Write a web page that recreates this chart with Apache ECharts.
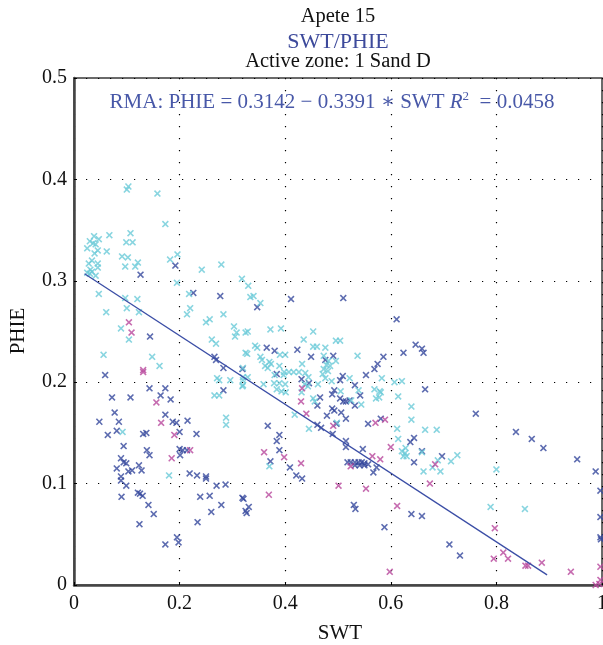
<!DOCTYPE html>
<html>
<head>
<meta charset="utf-8">
<script src="https://cdn.jsdelivr.net/npm/echarts@6/dist/echarts.min.js"></script>
<style>html,body{margin:0;padding:0;background:#fff}#c{width:603px;height:645px}</style>
</head>
<body>
<div id="c"></div>
<script>
// ---- data (SWT, PHIE) ----
const xTicks = [0, 0.2, 0.4, 0.6, 0.8, 1];
const yTicks = [0, 0.1, 0.2, 0.3, 0.4, 0.5];

const cyanPts = [
[0.100,0.390],[0.103,0.393],[0.158,0.386],[0.173,0.356],[0.067,0.345],[0.107,0.347],[0.099,0.338],[0.111,0.338],
[0.038,0.344],[0.030,0.339],[0.047,0.341],[0.041,0.336],[0.036,0.337],[0.025,0.332],[0.045,0.330],[0.039,0.327],[0.062,0.329],[0.034,0.320],[0.028,0.317],[0.045,0.317],[0.045,0.313],[0.031,0.311],[0.025,0.308],[0.034,0.309],[0.041,0.305],[0.030,0.307],
[0.091,0.324],[0.102,0.323],[0.097,0.314],[0.116,0.314],[0.121,0.318],[0.182,0.321],[0.196,0.326],[0.242,0.311],[0.279,0.316],[0.318,0.302],[0.330,0.295],[0.195,0.298],[0.047,0.287],[0.218,0.287],[0.097,0.283],[0.120,0.282],[0.220,0.273],[0.214,0.267],[0.061,0.269],[0.100,0.273],[0.123,0.269],[0.250,0.259],[0.257,0.262],[0.283,0.267],[0.303,0.255],[0.308,0.249],[0.305,0.245],[0.325,0.249],[0.089,0.253],[0.104,0.242],[0.261,0.242],[0.269,0.238],[0.334,0.284],
[0.056,0.227],[0.148,0.225],[0.162,0.216],[0.325,0.229],[0.320,0.214],[0.271,0.204],[0.275,0.202],[0.296,0.202],[0.320,0.202],[0.319,0.196],[0.266,0.187],[0.275,0.187],[0.288,0.165],[0.288,0.158],[0.092,0.151],[0.180,0.108],
[0.340,0.285],[0.353,0.278],[0.329,0.250],[0.372,0.252],[0.392,0.253],[0.453,0.250],[0.435,0.242],[0.496,0.241],[0.504,0.241],[0.343,0.236],[0.347,0.234],[0.453,0.235],[0.460,0.235],[0.476,0.234],[0.328,0.228],[0.390,0.227],[0.400,0.227],[0.353,0.225],[0.356,0.222],[0.473,0.226],[0.537,0.226],[0.370,0.220],[0.373,0.218],[0.362,0.216],[0.367,0.214],[0.389,0.216],[0.432,0.218],[0.482,0.221],[0.496,0.221],[0.478,0.217],[0.485,0.216],[0.473,0.213],[0.481,0.211],[0.398,0.210],[0.407,0.210],[0.416,0.210],[0.426,0.210],[0.438,0.209],[0.471,0.208],[0.320,0.205],[0.329,0.205],[0.380,0.207],[0.397,0.207],[0.444,0.205],[0.476,0.204],[0.379,0.199],[0.389,0.199],[0.400,0.198],[0.437,0.198],[0.462,0.198],[0.488,0.201],[0.522,0.204],[0.583,0.204],[0.320,0.197],[0.359,0.198],[0.384,0.193],[0.393,0.191],[0.401,0.190],[0.431,0.190],[0.443,0.196],[0.505,0.191],[0.539,0.192],[0.569,0.193],[0.579,0.191],[0.581,0.190],[0.607,0.200],[0.621,0.201],[0.453,0.184],[0.456,0.181],[0.572,0.184],[0.578,0.185],[0.614,0.186],[0.525,0.182],[0.544,0.178],[0.639,0.176],
[0.418,0.168],[0.445,0.154],[0.498,0.160],[0.612,0.154],[0.639,0.163],[0.614,0.144],[0.621,0.132],[0.627,0.130],[0.624,0.127],[0.630,0.127],[0.628,0.135],[0.370,0.117],
[0.665,0.153],[0.687,0.153],[0.659,0.131],[0.714,0.122],[0.726,0.128],[0.689,0.123],[0.679,0.116],[0.662,0.112],[0.694,0.112],[0.800,0.114],[0.789,0.077],[0.854,0.075]
];

const bluePts = [
[0.192,0.315],[0.126,0.306],[0.226,0.288],[0.277,0.285],[0.144,0.245],
[0.266,0.225],[0.269,0.222],[0.283,0.214],[0.319,0.213],[0.059,0.207],[0.143,0.194],[0.173,0.194],[0.164,0.187],[0.183,0.183],[0.072,0.185],[0.107,0.185],[0.283,0.192],[0.077,0.170],[0.048,0.161],[0.085,0.161],[0.173,0.168],[0.187,0.161],[0.194,0.160],[0.215,0.162],[0.081,0.152],[0.064,0.148],[0.131,0.149],[0.137,0.150],[0.200,0.151],[0.232,0.149],[0.094,0.137],[0.138,0.133],[0.143,0.128],[0.200,0.134],[0.206,0.133],[0.214,0.133],[0.201,0.128],[0.089,0.125],[0.094,0.121],[0.099,0.120],[0.081,0.115],[0.103,0.112],[0.110,0.113],[0.123,0.118],[0.128,0.113],[0.089,0.107],[0.089,0.103],[0.099,0.098],[0.219,0.110],[0.233,0.108],[0.250,0.107],[0.250,0.105],[0.270,0.098],[0.287,0.099],[0.090,0.087],[0.121,0.091],[0.125,0.090],[0.130,0.088],[0.141,0.079],[0.151,0.070],[0.124,0.060],[0.239,0.087],[0.257,0.088],[0.279,0.079],[0.260,0.072],[0.234,0.062],[0.319,0.086],[0.321,0.085],[0.325,0.073],[0.327,0.071],[0.331,0.077],[0.173,0.040],[0.195,0.047],[0.198,0.042],
[0.411,0.282],[0.510,0.283],[0.347,0.274],[0.611,0.262],[0.647,0.237],[0.624,0.229],[0.365,0.234],[0.380,0.231],[0.423,0.232],[0.449,0.225],[0.476,0.222],[0.491,0.226],[0.586,0.225],[0.575,0.218],[0.569,0.213],[0.553,0.207],[0.384,0.208],[0.431,0.203],[0.445,0.199],[0.504,0.202],[0.509,0.206],[0.532,0.197],[0.493,0.192],[0.489,0.188],[0.542,0.187],[0.504,0.184],[0.510,0.181],[0.515,0.181],[0.522,0.182],[0.466,0.185],[0.461,0.177],[0.489,0.174],[0.532,0.177],
[0.479,0.167],[0.493,0.172],[0.506,0.170],[0.515,0.164],[0.461,0.158],[0.468,0.155],[0.367,0.157],[0.389,0.148],[0.384,0.142],[0.389,0.133],[0.372,0.122],[0.409,0.116],[0.421,0.108],[0.432,0.105],[0.490,0.149],[0.497,0.159],[0.515,0.142],[0.515,0.136],[0.547,0.134],[0.518,0.121],[0.524,0.121],[0.532,0.121],[0.539,0.121],[0.545,0.121],[0.550,0.120],[0.557,0.119],[0.532,0.118],[0.541,0.118],[0.550,0.118],[0.573,0.116],[0.567,0.111],[0.557,0.159],[0.581,0.164],[0.644,0.145],[0.637,0.141],[0.644,0.121],[0.530,0.079],[0.533,0.075],[0.588,0.057],[0.639,0.070],
[0.659,0.233],[0.662,0.229],[0.665,0.193],[0.761,0.169],[0.837,0.151],[0.867,0.144],[0.889,0.135],[0.953,0.124],[0.988,0.112],[0.659,0.132],[0.697,0.127],[0.659,0.068],[0.711,0.040],[0.731,0.029],[0.997,0.093],[0.997,0.067],[0.997,0.047],[0.998,0.045]
];

const magentaPts = [
[0.104,0.259],[0.109,0.249],[0.131,0.212],[0.131,0.210],[0.156,0.180],[0.165,0.160],[0.190,0.148],[0.220,0.133],[0.185,0.125],[0.432,0.194],[0.430,0.181],[0.440,0.169],[0.491,0.157],[0.360,0.131],[0.398,0.126],[0.430,0.120],[0.524,0.117],[0.565,0.127],[0.580,0.124],[0.600,0.136],[0.571,0.160],[0.589,0.163],[0.501,0.098],[0.553,0.095],[0.369,0.089],[0.612,0.078],[0.598,0.013],[0.684,0.119],[0.674,0.100],[0.797,0.056],[0.813,0.032],[0.795,0.026],[0.822,0.026],[0.855,0.019],[0.860,0.019],[0.886,0.022],[0.941,0.013],[0.997,0.018],[0.997,0.005],[0.988,0.000],[0.995,0.001]
];

// RMA fit line endpoints (PHIE = 0.3142 - 0.3391*SWT)
const fitSWT = [0.020, 0.896];
const fitPHIE = [0.307, 0.010];

const titleLines = ['Apete 15', 'SWT/PHIE', 'Active zone: 1 Sand D'];
const xName = 'SWT';
const yName = 'PHIE';

// ---- chart ----
const FONT = '"Liberation Serif", "DejaVu Serif", serif';
const cross = 'path://M0,1.6L1.6,0L5,3.4L8.4,0L10,1.6L6.6,5L10,8.4L8.4,10L5,6.6L1.6,10L0,8.4L3.4,5Z';
const chart = echarts.init(document.getElementById('c'), null, {renderer: 'canvas'});
const gridL = 74, gridT = 78, gridW = 528, gridH = 507;

function sc(name, pts, color) {
  return {
    name, type: 'scatter', data: pts, symbol: cross, symbolSize: 7,
    itemStyle: {color}, z: 3, silent: true, clip: false
  };
}
const BLUE_TXT = '#4858a8';

chart.setOption({
  animation: false,
  backgroundColor: '#fff',
  grid: {left: gridL, top: gridT, width: gridW, height: gridH, show: true, borderColor: '#3a3a3a', borderWidth: 1.5,
         backgroundColor: 'transparent', containLabel: false, outerBoundsMode: 'none'},
  xAxis: {
    type: 'value', min: xTicks[0], max: xTicks[xTicks.length-1], interval: 0.2,
    axisLine: {show: true, onZero: false, lineStyle: {color: '#444', width: 2.5}},
    axisTick: {show: true, inside: true, length: 3, lineStyle: {color: '#000'}},
    axisLabel: {color: '#111', fontFamily: FONT, fontSize: 20, margin: 9},
    splitLine: {show: true, lineStyle: {color: '#000', width: 1.2, type: [1.2, 10.8]}}
  },
  yAxis: {
    type: 'value', min: yTicks[0], max: yTicks[yTicks.length-1], interval: 0.1,
    axisLine: {show: true, onZero: false, lineStyle: {color: '#444', width: 2.5}},
    axisTick: {show: true, inside: true, length: 3, lineStyle: {color: '#000'}},
    axisLabel: {color: '#111', fontFamily: FONT, fontSize: 20, margin: 7},
    splitLine: {show: true, lineStyle: {color: '#000', width: 1.2, type: [1.2, 10.8]}}
  },
  series: [
    sc('blue', bluePts, '#34479c'),
    sc('cyan', cyanPts, '#6ccad8'),
    sc('magenta', magentaPts, '#b8479c'),
    {
      type: 'line', data: fitSWT.map((v, i) => [v, fitPHIE[i]]), symbol: 'none',
      lineStyle: {color: '#3b4ea6', width: 1.3}, z: 4, silent: true
    }
  ],
  graphic: [
    {type: 'text', x: 338, y: 17, style: {text: titleLines[0], font: '20.5px ' + FONT, fill: '#111', textAlign: 'center', textVerticalAlign: 'middle'}},
    {type: 'text', x: 338, y: 42, style: {text: titleLines[1], font: '22px ' + FONT, fill: '#3d4a9b', textAlign: 'center', textVerticalAlign: 'middle'}},
    {type: 'text', x: 338, y: 62, style: {text: titleLines[2], font: '20.5px ' + FONT, fill: '#111', textAlign: 'center', textVerticalAlign: 'middle'}},
    {type: 'text', x: 332, y: 102, z: 10, style: {
      text: '{a|RMA: PHIE = 0.3142 − 0.3391 ∗ SWT }{i|R}{s|2}{a|  = 0.0458}',
      textAlign: 'center', textVerticalAlign: 'middle',
      rich: {
        a: {fontFamily: FONT, fontSize: 21, fill: BLUE_TXT, lineHeight: 24},
        i: {fontFamily: FONT, fontSize: 21, fontStyle: 'italic', fill: BLUE_TXT, lineHeight: 24},
        s: {fontFamily: FONT, fontSize: 13, fill: BLUE_TXT, lineHeight: 24, verticalAlign: 'top', padding: [0, 0, 12, 0]}
      }
    }},
    {type: 'text', x: 340, y: 633, style: {text: xName, font: '21px ' + FONT, fill: '#111', textAlign: 'center', textVerticalAlign: 'middle'}},
    {type: 'text', x: 18, y: 331, rotation: Math.PI / 2, style: {text: yName, font: '21px ' + FONT, fill: '#111', textAlign: 'center', textVerticalAlign: 'middle'}}
  ]
});
</script>
</body>
</html>
